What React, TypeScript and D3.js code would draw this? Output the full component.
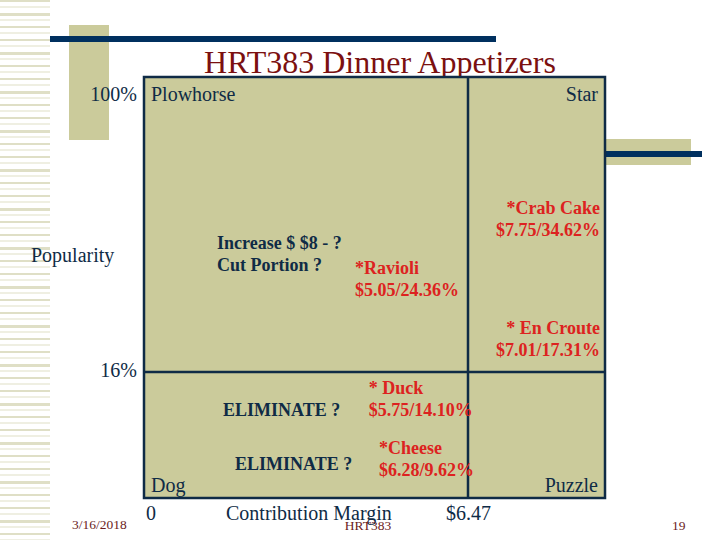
import * as d3 from 'd3';

// Menu engineering matrix: contribution margin vs. popularity (menu mix %)
const items = ['Crab Cake', 'Ravioli', 'En Croute', 'Duck', 'Cheese'];
const itemPrefix = ['*', '*', '* ', '* ', '*'];
const contributionMargin = [7.75, 5.05, 7.01, 5.75, 6.28];
const menuMix = [34.62, 24.36, 17.31, 14.1, 9.62];

const cmAverage = 6.47;
const popularityCut = 16;
const cmMax = 7.8;

const quadrantNames = ['Plowhorse', 'Star', 'Dog', 'Puzzle'];
const notes = [
  { lines: ['Increase $ $8 - ?', 'Cut Portion ?'], x: 217, y: 249 },
  { lines: ['ELIMINATE ?'], x: 223, y: 416 },
  { lines: ['ELIMINATE ?'], x: 235, y: 470 },
];

const W = 720;
const H = 540;
const box = { left: 144, right: 605, top: 77, bottom: 498 };

const NAVY = '#0f2b46';
const BAR = '#00305f';
const KHAKI = '#cbcb9b';
const RED = '#dd2220';
const SERIF = '"Liberation Serif", "Times New Roman", serif';

export default function App() {
  // frame scales (piecewise: average CM and popularity threshold form the dividers)
  const x = d3.scaleLinear().domain([0, cmAverage, cmMax]).range([box.left, 468, box.right]);
  const y = d3.scaleLinear().domain([0, popularityCut, 100]).range([box.bottom, 372, box.top]);

  // label placement: rows ranked by popularity, left quadrant labels spread by CM
  const row = d3.scalePoint<string>().domain(items).range([225, 465]);
  const lowCm = d3.scaleLinear().domain([5.05, 6.28]).range([355, 379]);

  const stripes = d3.range(0, H, 6.5).map((sy, i) => ({ y: sy, h: [2, 1, 3, 1, 2, 1][i % 6] }));

  return (
    <div style={{ position: 'fixed', left: 0, top: 0 }}>
      <svg width={W} height={H} style={{ display: 'block', background: '#fff', fontFamily: SERIF }}>
        {/* left striped margin */}
        {stripes.map((s, i) => (
          <rect key={i} x={0} y={s.y} width={50} height={s.h} fill="#dfdfc6" />
        ))}
        {/* decorative bars */}
        <rect x={69} y={25} width={40} height={115} fill={KHAKI} />
        <rect x={50} y={36} width={446} height={6} fill={BAR} />
        <rect x={605} y={139} width={86} height={26} fill={KHAKI} />
        <rect x={605} y={151} width={97} height={6} fill={BAR} />

        <text x={380} y={73} textAnchor="middle" fontSize={32} fill="#7b1010">
          HRT383 Dinner Appetizers
        </text>

        {/* matrix */}
        <rect
          x={x(0)}
          y={y(100)}
          width={x(cmMax) - x(0)}
          height={y(0) - y(100)}
          fill={KHAKI}
          stroke={NAVY}
          strokeWidth={2.5}
        />
        <line x1={x(cmAverage)} x2={x(cmAverage)} y1={y(100)} y2={y(0)} stroke={NAVY} strokeWidth={2.5} />
        <line x1={x(0)} x2={x(cmMax)} y1={y(popularityCut)} y2={y(popularityCut)} stroke={NAVY} strokeWidth={2.5} />

        <g fontSize={20} fill={NAVY}>
          <text x={x(0) + 7} y={y(100) + 24}>{quadrantNames[0]}</text>
          <text x={x(cmMax) - 7} y={y(100) + 24} textAnchor="end">{quadrantNames[1]}</text>
          <text x={x(0) + 7} y={y(0) - 6}>{quadrantNames[2]}</text>
          <text x={x(cmMax) - 7} y={y(0) - 6} textAnchor="end">{quadrantNames[3]}</text>

          <text x={137} y={y(100) + 24} textAnchor="end">100%</text>
          <text x={137} y={y(popularityCut) + 5} textAnchor="end">{popularityCut}%</text>
          <text x={31} y={262}>Popularity</text>
          <text x={x(0) + 2} y={520}>0</text>
          <text x={226} y={520}>Contribution Margin</text>
          <text x={446} y={520}>${cmAverage.toFixed(2)}</text>
        </g>

        <g fontSize={18} fontWeight="bold" fill={NAVY}>
          {notes.map((n, i) => (
            <text key={i} x={n.x} y={n.y}>
              {n.lines.map((l, j) => (
                <tspan key={j} x={n.x} dy={j === 0 ? 0 : 22}>{l}</tspan>
              ))}
            </text>
          ))}
        </g>

        <g fontSize={18} fontWeight="bold" fill={RED}>
          {items.map((name, i) => {
            const cm = contributionMargin[i];
            const star = cm > cmAverage;
            const tx = star ? x(cmMax) - 5 : lowCm(cm);
            const cy = row(name) as number;
            return (
              <text key={name} x={tx} y={cy - 11} textAnchor={star ? 'end' : 'start'}>
                <tspan x={tx}>{itemPrefix[i] + name}</tspan>
                <tspan x={tx} dy={22}>${cm.toFixed(2)}/{menuMix[i].toFixed(2)}%</tspan>
              </text>
            );
          })}
        </g>

        {/* footer */}
        <g fontSize={13.5} fill="#6b1c1c">
          <text x={72} y={529}>3/16/2018</text>
          <text x={368} y={530} textAnchor="middle">HRT383</text>
          <text x={672} y={530}>19</text>
        </g>
      </svg>
    </div>
  );
}
